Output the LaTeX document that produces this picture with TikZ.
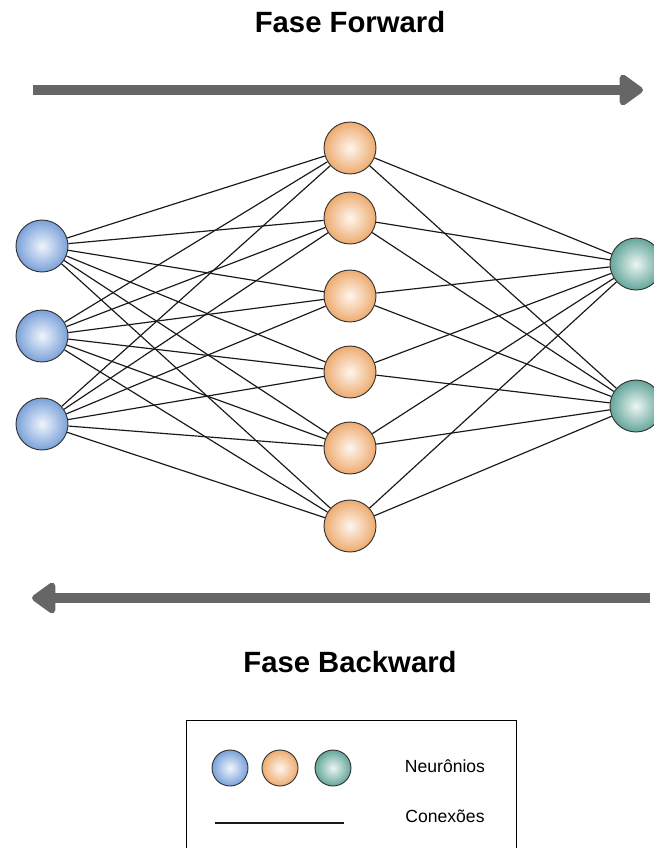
\documentclass[tikz,border=0pt]{standalone}
\usepackage{fontspec}
\setmainfont{Liberation Sans}
\usetikzlibrary{arrows.meta, positioning}
\definecolor{inBlue}{HTML}{7EA6E0}
\definecolor{hidOrange}{HTML}{F5B072}
\definecolor{outGreen}{HTML}{67AB9F}
\definecolor{phaseGray}{HTML}{666666}
\tikzset{
  neuron/.style={circle, draw=black!80, line width=0.8pt, inner sep=0pt,
                 minimum size=15.6mm, inner color=#1!12!white, outer color=#1!97!black},
  lneuron/.style={neuron=#1, minimum size=10.8mm},
  conn/.style={draw=black!90, line width=1pt},
  phase/.style={draw=phaseGray, line width=8.4pt,
                -{Triangle[round, length=22pt, width=30pt]}},
  title/.style={font=\fontsize{25}{28}\selectfont\bfseries},
  legtext/.style={font=\fontsize{15}{18}\selectfont},
}

\begin{document}
\begin{tikzpicture}[x=0.3mm, y=-0.3mm]
\useasboundingbox (0,0) rectangle (654,848);
\clip (0,0) rectangle (654,848);

% phases
\node[title] (fwd) at (350,22) {Fase Forward};
\node[title] (bwd) at (350,662) {Fase Backward};
\coordinate (fwdA) at (33,90);
\coordinate (fwdB) at (643,90);
\coordinate (bwdA) at (650,598);
\coordinate (bwdB) at (32,598);
\draw[phase] (fwdA) -- (fwdB);
\draw[phase] (bwdA) -- (bwdB);

% layers
\node[neuron=inBlue] (in1) at (42,246) {};
\node[neuron=inBlue] (in2) at (42,336) {};
\node[neuron=inBlue] (in3) at (42,424) {};

\node[neuron=hidOrange] (h1) at (350,148) {};
\node[neuron=hidOrange] (h2) at (350,218) {};
\node[neuron=hidOrange] (h3) at (350,296) {};
\node[neuron=hidOrange] (h4) at (350,372) {};
\node[neuron=hidOrange] (h5) at (350,448) {};
\node[neuron=hidOrange] (h6) at (350,526) {};

\node[neuron=outGreen] (out1) at (636,264) {};
\node[neuron=outGreen] (out2) at (636,406) {};

% connections
\foreach \i in {1,2,3}
  \foreach \j in {1,...,6}
    \draw[conn] (in\i) -- (h\j);
\foreach \j in {1,...,6}
  \foreach \k in {1,2}
    \draw[conn] (h\j) -- (out\k);

% legend
\draw[line width=0.8pt] (186,720) rectangle (516,870);
\node[lneuron=inBlue] (legIn) at (230,768) {};
\node[lneuron=hidOrange] (legHid) at (280,768) {};
\node[lneuron=outGreen] (legOut) at (333,768) {};
\node[legtext] (legN) at (445,766) {Neurônios};
\coordinate (legA) at (215,823);
\coordinate (legB) at (344,823);
\draw[conn] (legA) -- (legB);
\node[legtext] (legC) at (445,816) {Conexões};
\end{tikzpicture}
\end{document}
